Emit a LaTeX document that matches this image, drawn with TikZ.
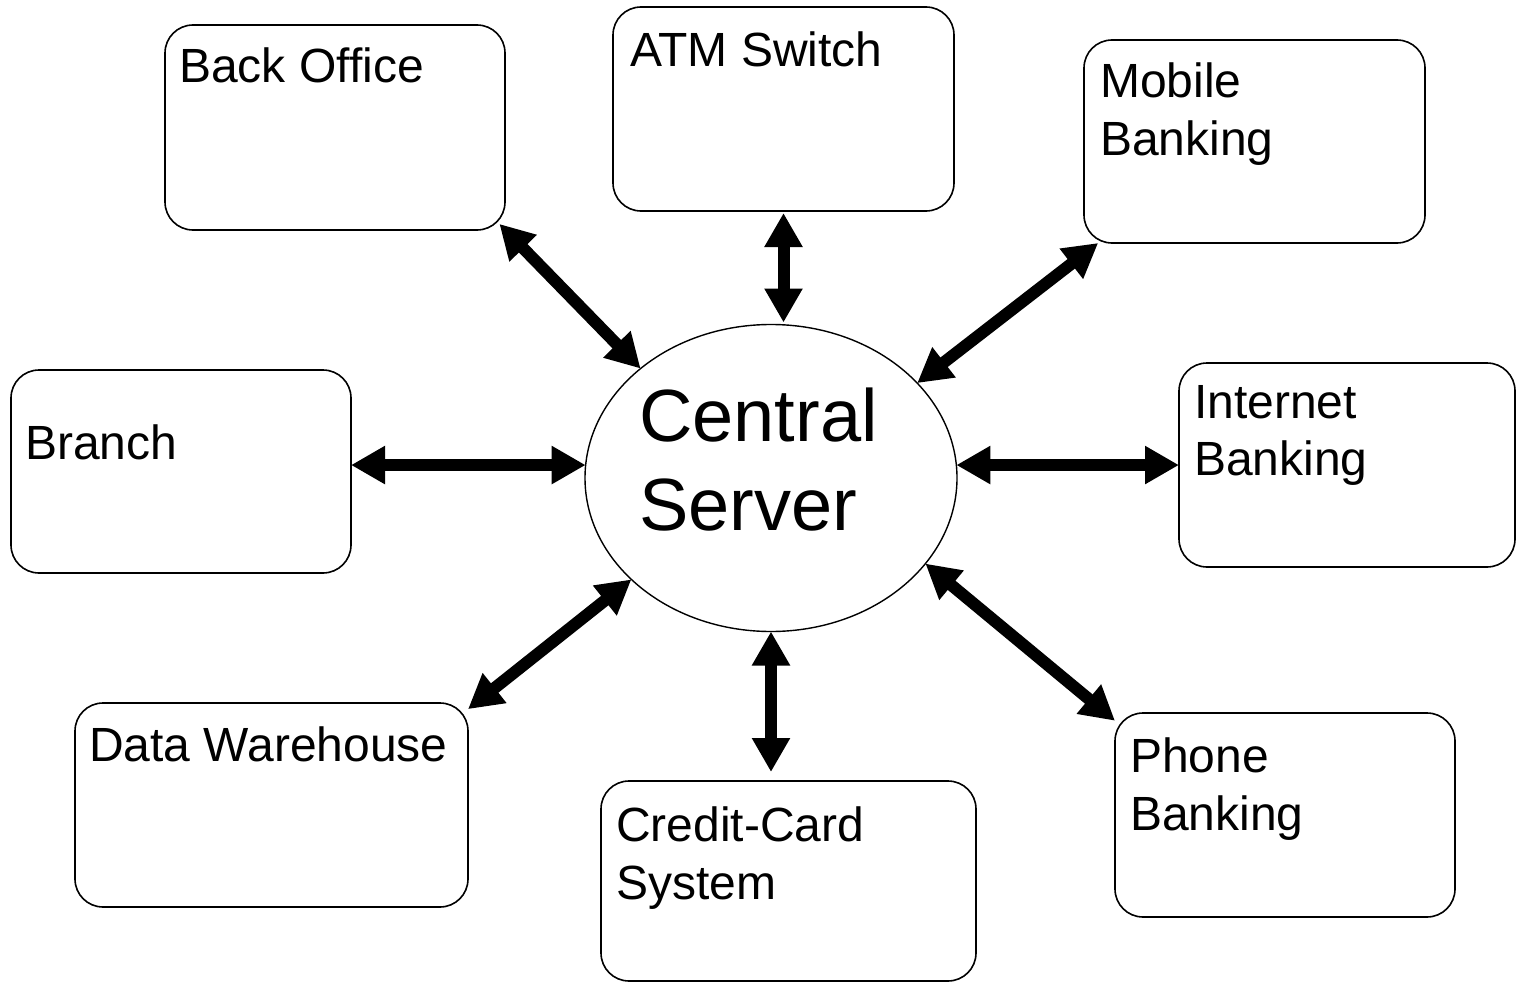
\documentclass[tikz,border=0pt]{standalone}
\usepackage{fontspec}
\setmainfont{Liberation Sans}
\usetikzlibrary{arrows.meta,calc,shapes.geometric}
\tikzset{
  unitbox/.style={draw, line width=1.6pt, rounded corners=28pt, anchor=north west,
    inner sep=0pt, outer sep=0pt},
  boxtext/.style={anchor=north west, inner sep=0pt, align=left,
    font=\fontsize{48pt}{57.6pt}\selectfont},
  hub/.style={ellipse, draw, line width=1.4pt, inner sep=0pt, outer sep=0pt,
    minimum width=372pt, minimum height=307pt},
  hubtext/.style={anchor=north west, inner sep=0pt, align=left,
    font=\fontsize{74pt}{89pt}\selectfont},
  link/.style={line width=12pt,
    {Triangle[width=36pt,length=34pt]}-{Triangle[width=36pt,length=34pt]}},
}
\begin{document}
\begin{tikzpicture}[x=1pt,y=-1pt]
\useasboundingbox (0,0) rectangle (1516,982);

% central hub
\node[hub] (cs) at (771,478) {};
\node[hubtext] (cs-t) at (639,388) {Central\\Server};

% surrounding systems
\node[unitbox, minimum width=340pt, minimum height=205pt] (bo) at (165,25) {};
\node[boxtext] (bo-t) at ($(bo.north west)+(14,23)$) {Back Office};

\node[unitbox, minimum width=341pt, minimum height=204pt] (atm) at (613,7) {};
\node[boxtext] (atm-t) at ($(atm.north west)+(17,25)$) {ATM Switch};

\node[unitbox, minimum width=341pt, minimum height=203pt] (mob) at (1084,40) {};
\node[boxtext] (mob-t) at ($(mob.north west)+(16,23)$) {Mobile\\Banking};

\node[unitbox, minimum width=340pt, minimum height=203pt] (br) at (11,370) {};
\node[boxtext] (br-t) at ($(br.north west)+(14,55)$) {Branch};

\node[unitbox, minimum width=336pt, minimum height=204pt] (inet) at (1179,363) {};
\node[boxtext] (inet-t) at ($(inet.north west)+(15,22)$) {Internet\\Banking};

\node[unitbox, minimum width=393pt, minimum height=204pt] (dw) at (75,703) {};
\node[boxtext] (dw-t) at ($(dw.north west)+(14,24)$) {Data Warehouse};

\node[unitbox, minimum width=375pt, minimum height=200pt] (cc) at (601,781) {};
\node[boxtext] (cc-t) at ($(cc.north west)+(15,26)$) {Credit-Card\\System};

\node[unitbox, minimum width=340pt, minimum height=204pt] (ph) at (1115,713) {};
\node[boxtext] (ph-t) at ($(ph.north west)+(15,25)$) {Phone\\Banking};

% two-way links to the hub
\draw[link, shorten <=-8pt] (bo.-31) -- (cs.140);
\draw[link, shorten <=2pt, shorten >=2pt] (atm.south) -- (atm.south |- cs.north);
\draw[link] (mob.213) -- (cs.33);
\draw[link] (br.east |- cs.176) -- (cs.176);
\draw[link] (cs.4) -- (inet.west |- cs.4);
\draw[link] (dw.26) -- (cs.216);
\draw[link, shorten >=9pt] (cs.south) -- (cs.south |- cc.north);
\draw[link] (cs.331) -- (ph.151);
\end{tikzpicture}
\end{document}
